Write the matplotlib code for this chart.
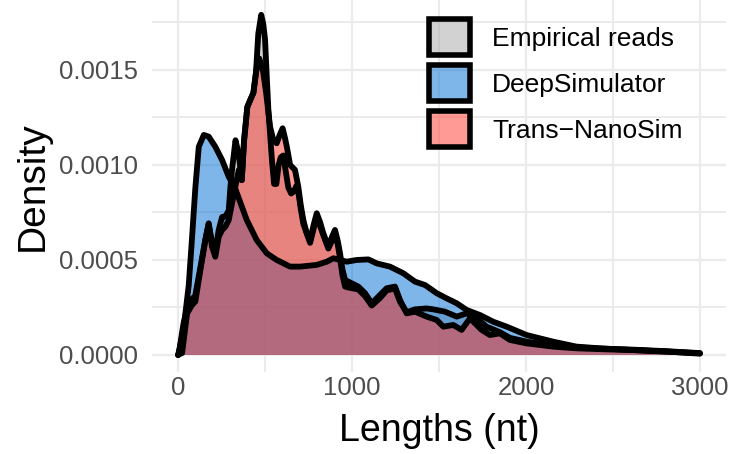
import matplotlib
matplotlib.use('Agg')
import matplotlib.pyplot as plt
from matplotlib.patches import Patch
import numpy as np

plt.rcParams['font.family'] = ['Liberation Sans', 'DejaVu Sans']

# density curves (x in nt, y in units of 1e-4)
emp_x = [0, 10, 30, 55, 80, 98, 128, 157, 176, 195, 214, 234, 253, 272, 291, 301, 310,
         330, 348, 366, 380, 398, 414, 433, 448, 461, 478, 490, 500, 510, 519, 529, 540,
         552, 565, 578, 590, 605, 620, 634, 650, 665, 680, 691, 705, 720, 759, 778, 797,
         835, 864, 884, 902, 918, 931, 945, 960, 979, 1036, 1075, 1113, 1161, 1199, 1247,
         1276, 1314, 1362, 1429, 1467, 1534, 1602, 1659, 1716, 1774, 1850, 1908, 2004,
         2157, 2291, 2450, 2617, 2808, 3000]
emp_y = [0, 0.4, 1.6, 2.6, 2.95, 3.1, 4.6, 6.1, 6.9, 5.9, 5.5, 6.6, 7.26, 7.3, 7.6, 8.86, 9.74,
         11.3, 10.6, 9.2, 11.3, 13.05, 13.4, 13.8, 14.9, 16.9, 17.9, 17.4, 16.6, 14.6, 12.9, 11.6, 10.2,
         9.0, 9.0, 10.0, 10.4, 10.5, 9.6, 8.8, 8.5, 8.6, 8.9, 8.6, 7.7, 6.9, 5.9, 6.6, 7.3,
         6.3, 5.6, 6.0, 6.4, 5.8, 5.1, 4.2, 3.6, 3.55, 3.45, 3.1, 2.6, 3.0, 3.4, 3.5,
         2.8, 2.25, 2.4, 2.45, 2.4, 2.28, 2.02, 2.19, 1.93, 1.49, 1.2, 0.9, 0.7,
         0.5, 0.4, 0.33, 0.28, 0.2, 0.1]

deep_x = [0, 4, 33, 61, 80, 99, 119, 148, 176, 214, 253, 291, 328, 395, 452, 510, 567, 644,
          701, 797, 855, 893, 970, 1027, 1094, 1142, 1218, 1295, 1362, 1420, 1487, 1544,
          1602, 1659, 1736, 1812, 1889, 2004, 2157, 2291, 2425, 2617, 2808, 3000]
deep_y = [0, 0.1, 1.49, 3.65, 6.14, 8.77, 10.96, 11.58, 11.49, 10.96, 10.26, 9.38, 8.77, 7.10,
          6.05, 5.35, 5.00, 4.65, 4.65, 4.74, 4.91, 5.09, 4.91, 5.00, 5.03, 4.82, 4.65, 4.30,
          3.86, 3.68, 3.25, 2.98, 2.72, 2.37, 2.10, 1.75, 1.49, 1.05, 0.70, 0.44, 0.35, 0.26,
          0.18, 0.09]

tns_x = [0, 10, 23, 52, 80, 99, 128, 157, 176, 195, 214, 234, 253, 272, 291, 310, 330, 349,
         366, 379, 398, 414, 433, 456, 467, 489, 506, 529, 548, 567, 585, 601, 615, 625, 644,
         672, 691, 705, 720, 740, 759, 778, 797, 816, 835, 864, 884, 902, 918, 931, 945, 960,
         979, 1036, 1075, 1113, 1161, 1199, 1247, 1276, 1314, 1362, 1429, 1487, 1525, 1582,
         1630, 1678, 1745, 1793, 1850, 1908, 2004, 2157, 2291, 2450, 2617, 2808, 3000]
tns_y = [0, 0.05, 0.1, 2.19, 2.63, 2.81, 4.47, 6.05, 6.93, 5.70, 5.17, 6.23, 6.58, 6.75, 7.10,
         7.98, 8.9, 9.74, 9.2, 11.3, 13.05, 13.4, 13.8, 15.4, 15.6, 14.9, 13.8, 12.0, 11.3,
         11.14, 11.6, 11.93, 11.4, 10.96, 10.0, 9.74, 8.86, 7.9, 7.10, 6.4, 6.05, 6.8, 7.46,
         7.0, 6.40, 5.70, 6.2, 6.58, 6.0, 5.35, 4.5, 3.95, 3.86, 3.60, 3.25, 2.72, 3.16, 3.51,
         3.60, 2.89, 2.19, 2.28, 2.02, 1.84, 1.49, 1.58, 1.32, 1.93, 1.32, 1.05, 1.14, 0.79,
         0.61, 0.44, 0.35, 0.30, 0.26, 0.18, 0.07]

labels = ['Empirical reads', 'DeepSimulator', 'Trans\u2212NanoSim']
colors = ['#A7A7A7', '#006ED5', '#FF372D']
series = [(emp_x, emp_y), (deep_x, deep_y), (tns_x, tns_y)]

fig = plt.figure(figsize=(7.32, 4.54), dpi=100)
ax = fig.add_axes([152/732, 82/454, 574/732, 372/454])

# each density: translucent fill, then its black upper outline
for (xs, ys), c in zip(series, colors):
    xs = np.array(xs)
    ys = np.array(ys) * 1e-4
    ax.fill_between(xs, ys, 0, facecolor=c, alpha=0.5, lw=0)
    ax.plot(xs, ys, color='black', lw=4.2, solid_joinstyle='round', solid_capstyle='round')

ax.set_xlim(-150, 3150)
ax.set_ylim(-0.0000895, 0.001868)
ax.set_xticks([0, 1000, 2000, 3000])
ax.set_xticks([500, 1500, 2500], minor=True)
ax.set_yticks([0, 0.0005, 0.0010, 0.0015])
ax.set_yticklabels(['0.0000', '0.0005', '0.0010', '0.0015'])
ax.set_yticks([0.00025, 0.00075, 0.00125, 0.00175], minor=True)
ax.grid(True, which='major', color='#EBEBEB', lw=1.6)
ax.grid(True, which='minor', color='#EBEBEB', lw=1.4)
ax.set_axisbelow(True)
for s in ax.spines.values():
    s.set_visible(False)
ax.tick_params(which='both', length=0)
ax.tick_params(axis='x', labelsize=18.5, labelcolor='#4D4D4D', pad=3)
ax.tick_params(axis='y', labelsize=18.5, labelcolor='#4D4D4D', pad=10)
ax.set_xlabel('Lengths (nt)', fontsize=27, labelpad=9)
ax.set_ylabel('Density', fontsize=28, labelpad=6)

handles = []
for c in colors:
    rgb = matplotlib.colors.to_rgb(c)
    handles.append(Patch(facecolor=(rgb[0], rgb[1], rgb[2], 0.5), edgecolor='black', linewidth=4))
ax.legend(handles, labels, loc='upper left', bbox_to_anchor=(429/732, 1 - 19/454),
          bbox_transform=fig.transFigure, frameon=False, fontsize=19, borderpad=0,
          handlelength=1.55, handleheight=1.75, labelspacing=0.36, handletextpad=0.85,
          borderaxespad=0)

fig.savefig('out.png', dpi=100)
